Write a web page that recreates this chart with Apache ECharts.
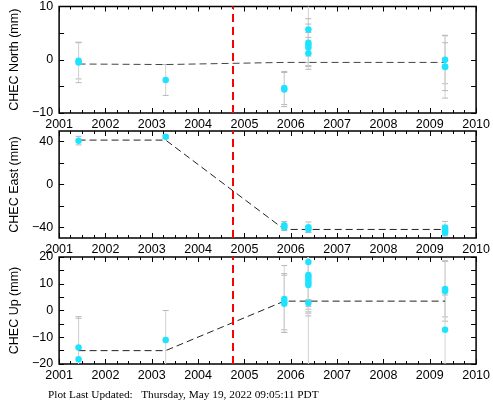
<!DOCTYPE html>
<html><head><meta charset="utf-8">
<script src="https://cdn.jsdelivr.net/npm/echarts@6/dist/echarts.min.js"></script>
<style>html,body{margin:0;padding:0;background:#fff}#c{width:493px;height:404px}</style>
</head><body><div id="c"></div>
<script>
// ---- data ----
const yearTicks = [2001,2002,2003,2004,2005,2006,2007,2008,2009,2010];
const quakeYear = 2004.74;

const northT = [2001.42,2001.42,2003.30,2005.86,2005.86,2006.38,2006.38,2006.38,2006.38,2006.38,2009.33,2009.33,2009.33];
const northV = [-0.2,-0.5,-3.8,-5.3,-5.6,5.7,3.2,2.8,2.3,1.2,0.0,-1.3,-1.3];
const northE = [3.4,3.8,2.9,3.1,3.2,5.0,4.5,3.9,2.8,3.0,4.5,5.9,4.5];
const northTrendT = [2001.42,2003.30,2005.86,2009.33];
const northTrendV = [-0.8,-0.9,-0.5,-0.5];

const eastT = [2001.42,2003.30,2005.86,2005.86,2006.38,2006.38,2009.33,2009.33,2009.33,2009.33];
const eastV = [41.0,44.6,-38.0,-40.0,-40.0,-41.8,-40.5,-42.0,-43.5,-45.0];
const eastE = [4.0,1.5,3.5,3.0,5.0,3.0,6.0,4.0,3.0,3.0];
const eastTrendT = [2001.42,2003.30,2005.86,2009.33];
const eastTrendV = [41.5,41.5,-42.0,-42.0];

const upT = [2001.42,2001.42,2003.30,2005.86,2005.86,2005.86,2006.38,2006.38,2006.38,2006.38,2006.38,2006.38,2006.38,2009.33,2009.33,2009.33];
const upV = [-13.8,-18.2,-11.0,4.3,3.3,2.5,18.1,13.3,12.5,11.5,10.5,9.5,2.8,8.0,7.3,-7.2];
const upE = [11.5,15.3,11.0,12.5,10.5,10.7,14.0,11.8,12.0,12.5,11.0,11.5,25.0,10.4,11.3,13.0];
const upTrendT = [2001.42,2003.30,2005.86,2009.33];
const upTrendV = [-15.0,-15.0,3.5,3.5];

// ---- chart ----
const FONT = 'Liberation Sans, Arial, sans-serif';
const panels = [
  {title:'CHEC North (mm)', min:-10, max:10, interval:10, minor:2, T:northT, V:northV, E:northE, tT:northTrendT, tV:northTrendV, top:5, height:108, trendColor:'#444'},
  {title:'CHEC East (mm)', min:-50, max:50, labels:[-40,0,40], ticks:[-40,-20,0,20,40], T:eastT, V:eastV, E:eastE, tT:eastTrendT, tV:eastTrendV, top:131, height:107, trendColor:'#222'},
  {title:'CHEC Up (mm)', min:-20, max:20, interval:10, minor:2, T:upT, V:upV, E:upE, tT:upTrendT, tV:upTrendV, top:257, height:107, trendColor:'#222'}
];

const grid=[], xAxis=[], yAxis=[], series=[];
function errRender(params, api){
  const x=api.value(0), y=api.value(1), e=api.value(2);
  const a=api.coord([x,y+e]), b=api.coord([x,y-e]);
  return {type:'group', children:[
    {type:'line', shape:{x1:a[0],y1:a[1],x2:b[0],y2:b[1]}, style:{stroke:'#d2d2d2', lineWidth:1}},
    {type:'line', shape:{x1:a[0]-3,y1:a[1],x2:a[0]+3,y2:a[1]}, style:{stroke:'#b8b8b8', lineWidth:1}},
    {type:'line', shape:{x1:b[0]-3,y1:b[1],x2:b[0]+3,y2:b[1]}, style:{stroke:'#b8b8b8', lineWidth:1}}
  ]};
}
panels.forEach((p,i)=>{
  grid.push({left:48.5, right:13, top:p.top, height:p.height, show:true, borderColor:'#000', borderWidth:1.5, backgroundColor:'#fff'});
  const xb = {type:'value', gridIndex:i, min:2001, max:2010, interval:1,
    axisLine:{show:false, onZero:false}, splitLine:{show:false},
    axisTick:{inside:true, length:5, lineStyle:{color:'#000'}},
    minorTick:{show:true, splitNumber:4, length:3, lineStyle:{color:'#000'}}};
  xAxis.push(Object.assign({}, xb, {position:'bottom',
    axisLabel:{color:'#000', fontFamily:FONT, fontSize:12.5, margin:5, formatter:v=>String(v)}}));
  xAxis.push(Object.assign({}, xb, {position:'top', axisLabel:{show:false}}));
  const yb = {type:'value', gridIndex:i, min:p.min, max:p.max,
    axisLine:{show:false, onZero:false}, splitLine:{show:false}};
  if (p.interval){
    yb.interval=p.interval;
    yb.axisTick={inside:true, length:5, lineStyle:{color:'#000'}};
    yb.minorTick={show:true, splitNumber:p.minor, length:5, lineStyle:{color:'#000'}};
  } else {
    yb.axisTick={inside:true, length:5, customValues:p.ticks, lineStyle:{color:'#000'}};
  }
  const lbl = {color:'#000', fontFamily:FONT, fontSize:12.5, margin:6, formatter:v=>v<0?'\u2212'+Math.abs(v):String(v)};
  if (p.labels) lbl.customValues = p.labels;
  yAxis.push(Object.assign({}, yb, {position:'left', axisLabel:lbl,
    name:p.title, nameLocation:'middle', nameGap:38, nameRotate:90,
    nameTextStyle:{color:'#000', fontFamily:FONT, fontSize:12.5}}));
  yAxis.push(Object.assign({}, yb, {position:'right', axisLabel:{show:false}}));
  const xi = i*2, yi = i*2;
  series.push({type:'custom', xAxisIndex:xi, yAxisIndex:yi, renderItem:errRender, clip:true, z:1,
    encode:{x:0,y:1}, data:p.T.map((t,k)=>[t,p.V[k],p.E[k]]), silent:true});
  series.push({type:'line', xAxisIndex:xi, yAxisIndex:yi, data:p.tT.map((t,k)=>[t,p.tV[k]]),
    symbol:'none', lineStyle:{color:p.trendColor, width:1, type:[7,4]}, z:2, silent:true,
    markLine:{silent:true, symbol:'none', label:{show:false},
      lineStyle:{color:'#ff0000', width:2, type:[8,5]}, data:[{xAxis:quakeYear}]}});
  series.push({type:'scatter', xAxisIndex:xi, yAxisIndex:yi, data:p.T.map((t,k)=>[t,p.V[k]]),
    symbolSize:6.5, itemStyle:{color:'#1ee3ff', opacity:1}, z:3, silent:true});
});

const chart = echarts.init(document.getElementById('c'), null, {renderer:'canvas'});
chart.setOption({
  animation:false, backgroundColor:'#fff',
  grid, xAxis, yAxis, series,
  graphic:[{type:'text', left:48, top:390,
    style:{text:'Plot Last Updated:   Thursday, May 19, 2022 09:05:11 PDT', font:'11.3px "Liberation Serif", "Times New Roman", serif', fill:'#000'}}]
});
</script></body></html>
